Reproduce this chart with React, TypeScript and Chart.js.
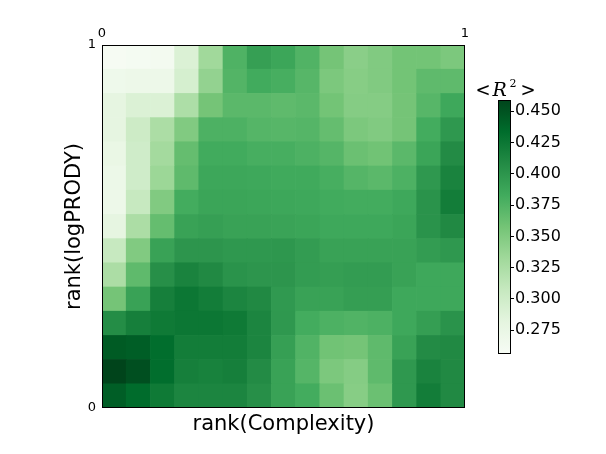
import { useEffect, useRef } from "react";
import { Chart, registerables } from "chart.js";

Chart.register(...registerables);

// ---- data (rows listed from top = rank 1 down to bottom = rank 0) ----
const COLUMNS = ["1", "2", "3", "4", "5", "6", "7", "8", "9", "10", "11", "12", "13", "14", "15"];
const ROW_01 = [0.258, 0.260, 0.262, 0.290, 0.332, 0.376, 0.392, 0.387, 0.375, 0.357, 0.345, 0.350, 0.358, 0.358, 0.353];
const ROW_02 = [0.268, 0.270, 0.270, 0.295, 0.340, 0.374, 0.383, 0.380, 0.372, 0.353, 0.347, 0.350, 0.358, 0.368, 0.368];
const ROW_03 = [0.280, 0.290, 0.290, 0.324, 0.357, 0.370, 0.370, 0.368, 0.370, 0.358, 0.348, 0.348, 0.357, 0.372, 0.385];
const ROW_04 = [0.280, 0.302, 0.325, 0.350, 0.377, 0.377, 0.373, 0.372, 0.373, 0.365, 0.353, 0.350, 0.357, 0.382, 0.398];
const ROW_05 = [0.275, 0.300, 0.330, 0.365, 0.383, 0.383, 0.380, 0.380, 0.377, 0.373, 0.362, 0.359, 0.370, 0.388, 0.408];
const ROW_06 = [0.272, 0.300, 0.335, 0.368, 0.386, 0.386, 0.385, 0.384, 0.384, 0.380, 0.373, 0.370, 0.377, 0.398, 0.415];
const ROW_07 = [0.270, 0.307, 0.350, 0.382, 0.388, 0.388, 0.387, 0.386, 0.385, 0.383, 0.382, 0.382, 0.385, 0.402, 0.420];
const ROW_08 = [0.280, 0.325, 0.365, 0.390, 0.392, 0.390, 0.390, 0.389, 0.388, 0.385, 0.385, 0.385, 0.388, 0.402, 0.410];
const ROW_09 = [0.307, 0.350, 0.390, 0.400, 0.400, 0.398, 0.398, 0.399, 0.395, 0.390, 0.390, 0.390, 0.390, 0.395, 0.398];
const ROW_10 = [0.325, 0.368, 0.405, 0.415, 0.410, 0.402, 0.400, 0.400, 0.395, 0.393, 0.395, 0.395, 0.390, 0.385, 0.385];
const ROW_11 = [0.357, 0.390, 0.418, 0.425, 0.420, 0.413, 0.410, 0.397, 0.390, 0.390, 0.393, 0.393, 0.385, 0.385, 0.385];
const ROW_12 = [0.407, 0.418, 0.423, 0.425, 0.425, 0.423, 0.413, 0.398, 0.382, 0.377, 0.375, 0.377, 0.385, 0.393, 0.402];
const ROW_13 = [0.445, 0.443, 0.433, 0.420, 0.420, 0.420, 0.413, 0.392, 0.375, 0.359, 0.357, 0.368, 0.390, 0.408, 0.410];
const ROW_14 = [0.459, 0.452, 0.433, 0.418, 0.416, 0.418, 0.408, 0.390, 0.373, 0.353, 0.348, 0.368, 0.398, 0.415, 0.410];
const ROW_15 = [0.443, 0.434, 0.423, 0.413, 0.413, 0.413, 0.405, 0.390, 0.382, 0.362, 0.347, 0.362, 0.398, 0.420, 0.410];
const ROWS_TOP_DOWN = [ROW_01, ROW_02, ROW_03, ROW_04, ROW_05, ROW_06, ROW_07, ROW_08, ROW_09, ROW_10, ROW_11, ROW_12, ROW_13, ROW_14, ROW_15];

const X_TICKS = [0, 1];
const Y_TICKS = [0, 1];
const CB_TICKS = [0.275, 0.3, 0.325, 0.35, 0.375, 0.4, 0.425, 0.45];
const VMIN = 0.256;
const VMAX = 0.459;

const X_TITLE = "rank(Complexity)";
const Y_TITLE = "rank(logPRODY)";

// matplotlib "Greens"
const GREENS = [
  [247, 252, 245],
  [229, 245, 224],
  [199, 233, 192],
  [161, 217, 155],
  [116, 196, 118],
  [65, 171, 93],
  [35, 139, 69],
  [0, 109, 44],
  [0, 68, 27],
];

function greensAt(t: number): string {
  const tt = Math.max(0, Math.min(1, t)) * (GREENS.length - 1);
  const i = Math.min(GREENS.length - 2, Math.floor(tt));
  const f = tt - i;
  const a = GREENS[i];
  const b = GREENS[i + 1];
  const c = a.map((v, k) => Math.round(v + (b[k] - v) * f));
  return `rgb(${c[0]},${c[1]},${c[2]})`;
}
function colorFor(v: number): string {
  return greensAt((v - VMIN) / (VMAX - VMIN));
}

const FONT = "'DejaVu Sans', sans-serif";

const frame = {
  id: "frame",
  afterDatasetsDraw(chart: any) {
    const { ctx, chartArea: a } = chart;
    ctx.save();
    ctx.strokeStyle = "#000";
    ctx.lineWidth = 1;
    ctx.strokeRect(Math.round(a.left) + 0.5, Math.round(a.top) + 0.5, Math.round(a.right - a.left) - 1, Math.round(a.bottom - a.top) - 1);
    ctx.restore();
  },
};

const cbTitle = {
  id: "cbTitle",
  afterDraw(chart: any) {
    const { ctx, chartArea: a } = chart;
    const cx = (a.left + a.right) / 2;
    const y = a.top - 4;
    ctx.save();
    ctx.fillStyle = "#000";
    ctx.textBaseline = "alphabetic";
    ctx.font = "18px 'DejaVu Serif', serif";
    ctx.textAlign = "left";
    const x0 = cx - 29;
    ctx.fillText("<", x0, y);
    ctx.font = "italic 19px 'DejaVu Serif', serif";
    ctx.fillText("R", x0 + 17, y);
    ctx.font = "11px 'DejaVu Serif', serif";
    ctx.fillText("2", x0 + 34, y - 9);
    ctx.font = "18px 'DejaVu Serif', serif";
    ctx.fillText(">", x0 + 45, y);
    ctx.restore();
  },
};

export default function App() {
  const mainRef = useRef<HTMLCanvasElement>(null);
  const cbRef = useRef<HTMLCanvasElement>(null);

  useEffect(() => {
    const rowsBottomUp = [...ROWS_TOP_DOWN].reverse();
    const datasets = rowsBottomUp.map((row, k) => ({
      label: `row ${k}`,
      data: row.map(() => 1),
      backgroundColor: row.map(colorFor),
      borderWidth: 0,
      barPercentage: 1,
      categoryPercentage: 1,
      xAxisID: "x",
      yAxisID: "y",
    }));

    const main = new Chart(mainRef.current!, {
      type: "bar",
      data: { labels: COLUMNS, datasets },
      options: {
        responsive: false,
        animation: false,
        events: [],
        layout: { padding: { left: 0, top: 0, right: 141, bottom: 0 } },
        plugins: { legend: { display: false }, tooltip: { enabled: false } },
        scales: {
          x: {
            type: "category",
            position: "bottom",
            stacked: true,
            grid: { display: false, drawTicks: false },
            border: { display: false },
            ticks: { display: false },
            title: { display: true, text: X_TITLE, color: "#000", font: { family: FONT, size: 21 }, padding: { top: 0, bottom: 17 } },
            afterFit: (s: any) => { s.height = 46; },
          },
          xT: {
            type: "linear",
            position: "top",
            offset: false,
            min: 0,
            max: 1,
            grid: { display: false, drawTicks: false, offset: false },
            border: { display: false },
            ticks: { color: "#000", font: { family: FONT, size: 13 }, padding: 4 },
            afterBuildTicks: (s: any) => { s.ticks = X_TICKS.map((v) => ({ value: v })); },
            afterFit: (s: any) => { s.height = 45; },
          },
          y: {
            type: "linear",
            display: false,
            stacked: true,
            min: 0,
            max: ROWS_TOP_DOWN.length,
          },
          yL: {
            type: "linear",
            position: "left",
            offset: false,
            min: 0,
            max: 1,
            grid: { display: false, drawTicks: false },
            border: { display: false },
            ticks: { color: "#000", font: { family: FONT, size: 13 }, padding: 6 },
            afterBuildTicks: (s: any) => { s.ticks = Y_TICKS.map((v) => ({ value: v })); },
            title: { display: true, text: Y_TITLE, color: "#000", font: { family: FONT, size: 21 }, padding: { top: 62, bottom: 0 } },
            afterFit: (s: any) => { s.width = 102; },
          },
        },
      } as any,
      plugins: [frame],
    });

    const cb = new Chart(cbRef.current!, {
      type: "bar",
      data: {
        labels: ["R2"],
        datasets: [
          {
            data: [[VMIN, VMAX]],
            borderWidth: 0,
            barPercentage: 1,
            categoryPercentage: 1,
            backgroundColor: (ctx: any) => {
              const chart = ctx.chart;
              const a = chart.chartArea;
              if (!a) return colorFor((VMIN + VMAX) / 2);
              const ys = chart.scales.y;
              const y0 = ys.getPixelForValue(VMIN);
              const y1 = ys.getPixelForValue(VMAX);
              const g = chart.ctx.createLinearGradient(0, y0, 0, y1);
              for (let i = 0; i < GREENS.length; i++) {
                g.addColorStop(i / (GREENS.length - 1), greensAt(i / (GREENS.length - 1)));
              }
              return g;
            },
          } as any,
        ],
      },
      options: {
        responsive: false,
        animation: false,
        events: [],
        layout: { padding: { left: 28, top: 40, right: 0, bottom: 26 } },
        plugins: { legend: { display: false }, tooltip: { enabled: false } },
        scales: {
          x: { type: "category", display: false },
          y: {
            type: "linear",
            position: "right",
            min: VMIN,
            max: VMAX,
            grid: { display: true, drawOnChartArea: false, drawTicks: true, tickLength: 3, color: "#000" },
            border: { display: false },
            ticks: {
              color: "#000",
              font: { family: FONT, size: 16 },
              padding: 1,
              callback: (v: any) => Number(v).toFixed(3),
            },
            afterBuildTicks: (s: any) => { s.ticks = CB_TICKS.map((v) => ({ value: v })); },
            afterFit: (s: any) => { s.width = 89; },
          },
        },
      } as any,
      plugins: [frame, cbTitle],
    });

    return () => {
      main.destroy();
      cb.destroy();
    };
  }, []);

  return (
    <div style={{ position: "fixed", left: 0, top: 0, width: 606, height: 454, background: "#fff" }}>
      <canvas ref={mainRef} width={606} height={454} style={{ position: "absolute", left: 0, top: 0 }} />
      <canvas ref={cbRef} width={130} height={320} style={{ position: "absolute", left: 470, top: 60 }} />
    </div>
  );
}
